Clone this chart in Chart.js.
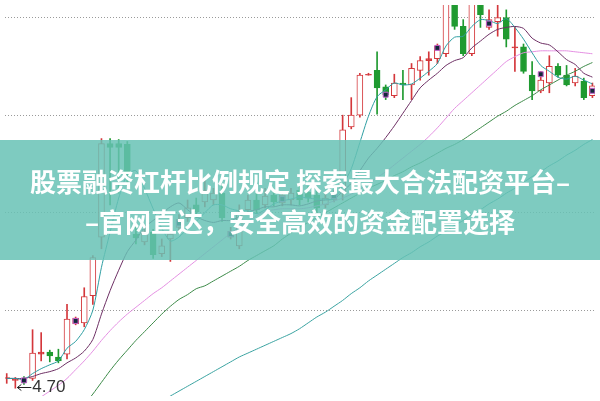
<!DOCTYPE html>
<html>
<head>
<meta charset="utf-8">
<script src="https://cdn.jsdelivr.net/npm/chart.js@4.4.1/dist/chart.umd.min.js"></script>
<style>
  html, body { margin: 0; padding: 0; background: #fff; }
  canvas { display: block; }
</style>
</head>
<body>
<canvas id="chart" width="600" height="401"></canvas>
<script>
// daily candles (price units)
const opens = [
  4.80, 4.78, 4.80, 4.80, 5.05, 5.07, 5.02, 5.05, 5.36, 5.37,
  5.65, 6.25, 7.21, 7.21, 7.20, 6.28, 6.20, 6.30, 6.08, 6.23,
  6.35, 6.45, 6.58, 6.61, 6.63, 6.70, 6.25, 6.16, 6.53, 6.63,
  6.58, 6.68, 6.60, 6.63, 6.73, 6.71, 6.68, 6.58, 6.63, 6.70,
  7.38, 7.50, 7.91, 7.96, 7.79, 7.70, 7.83, 7.81, 7.96, 8.06,
  8.08, 8.13, 8.68, 8.41, 8.13, 8.68, 8.40, 8.46, 8.50, 8.19,
  8.20, 7.91, 7.75, 7.83, 8.00, 7.91, 7.83, 7.85, 7.70,
];
const closes = [
  4.81, 4.79, 4.76, 5.06, 5.07, 5.03, 4.98, 5.41, 5.42, 5.64,
  6.04, 7.21, 7.17, 7.17, 6.88, 6.24, 6.31, 6.07, 6.16, 6.28,
  6.43, 6.55, 6.51, 6.73, 6.70, 6.45, 6.31, 6.51, 6.63, 6.53,
  6.67, 6.61, 6.68, 6.70, 6.63, 6.65, 6.55, 6.65, 6.71, 7.35,
  7.50, 7.91, 7.92, 7.78, 7.71, 7.83, 7.81, 7.98, 8.06, 8.08,
  8.21, 8.73, 8.41, 8.13, 8.68, 8.53, 8.48, 8.50, 8.28, 8.20,
  7.95, 7.75, 7.86, 8.00, 7.91, 7.81, 7.90, 7.68, 7.80,
];
const highs = [
  4.85, 4.81, 4.82, 5.30, 5.27, 5.09, 5.10, 5.56, 5.43, 5.73,
  6.06, 7.26, 7.26, 7.25, 7.23, 6.35, 6.36, 6.33, 6.23, 6.33,
  6.48, 6.63, 6.65, 6.86, 6.75, 6.78, 6.35, 6.58, 6.68, 6.70,
  6.75, 6.73, 6.71, 6.75, 6.78, 6.77, 6.73, 6.69, 6.73, 7.50,
  7.68, 7.93, 7.93, 8.15, 7.81, 7.92, 7.96, 8.03, 8.10, 8.15,
  8.23, 8.78, 8.73, 8.48, 8.73, 8.73, 8.58, 8.63, 8.58, 8.41,
  8.23, 8.05, 7.95, 8.11, 8.03, 8.01, 7.98, 7.88, 7.83,
];
const lows = [
  4.75, 4.70, 4.74, 4.78, 4.98, 4.97, 4.96, 5.00, 5.35, 5.33,
  5.56, 6.13, 6.58, 6.70, 6.78, 6.18, 6.17, 6.03, 6.05, 6.00,
  6.31, 6.41, 6.45, 6.56, 6.58, 6.41, 6.23, 6.13, 6.48, 6.49,
  6.55, 6.57, 6.57, 6.58, 6.58, 6.61, 6.50, 6.55, 6.61, 6.63,
  7.36, 7.48, 7.91, 7.51, 7.66, 7.68, 7.66, 7.66, 7.86, 7.91,
  8.03, 8.10, 8.38, 8.11, 8.11, 8.40, 8.38, 8.31, 8.20, 7.95,
  7.93, 7.66, 7.73, 7.73, 7.89, 7.80, 7.80, 7.66, 7.68,
];

// moving averages as drawn
const ma5 = [
  4.80, 4.80, 4.79, 4.85, 4.90, 4.94, 4.98, 5.11, 5.18, 5.30,
  5.50, 5.94, 6.30, 6.65, 6.89, 6.93, 6.75, 6.54, 6.34, 6.21,
  6.25, 6.34, 6.41, 6.50, 6.58, 6.58, 6.54, 6.52, 6.52, 6.49,
  6.53, 6.59, 6.62, 6.64, 6.66, 6.65, 6.64, 6.64, 6.64, 6.78,
  6.95, 7.22, 7.49, 7.69, 7.76, 7.83, 7.81, 7.82, 7.88, 7.95,
  8.03, 8.21, 8.30, 8.31, 8.41, 8.48, 8.47, 8.44, 8.49, 8.40,
  8.28, 8.14, 8.01, 7.95, 7.89, 7.87, 7.90, 7.86, 7.82,
];
const ma10 = [
  4.80, 4.80, 4.80, 4.82, 4.85, 4.87, 4.90, 4.96, 5.01, 5.08,
  5.20, 5.46, 5.70, 5.91, 6.10, 6.22, 6.35, 6.42, 6.49, 6.56,
  6.60, 6.53, 6.46, 6.42, 6.40, 6.42, 6.42, 6.46, 6.51, 6.53,
  6.56, 6.56, 6.58, 6.58, 6.57, 6.59, 6.62, 6.63, 6.64, 6.72,
  6.80, 6.93, 7.06, 7.16, 7.27, 7.39, 7.52, 7.65, 7.78, 7.86,
  7.93, 8.01, 8.06, 8.09, 8.19, 8.26, 8.33, 8.38, 8.40, 8.41,
  8.39, 8.29, 8.24, 8.22, 8.15, 8.07, 8.02, 7.93, 7.89,
];
const ma20 = [
  4.33, 4.39, 4.46, 4.54, 4.61, 4.67, 4.73, 4.80, 4.89, 4.98,
  5.08, 5.19, 5.29, 5.38, 5.46, 5.53, 5.60, 5.67, 5.73, 5.80,
  5.87, 5.94, 6.01, 6.08, 6.15, 6.22, 6.29, 6.35, 6.41, 6.47,
  6.51, 6.53, 6.54, 6.54, 6.54, 6.55, 6.57, 6.59, 6.62, 6.65,
  6.69, 6.74, 6.80, 6.86, 6.92, 6.99, 7.06, 7.13, 7.20, 7.28,
  7.37, 7.47, 7.57, 7.65, 7.73, 7.81, 7.89, 7.97, 8.05, 8.10,
  8.14, 8.15, 8.16, 8.16, 8.16, 8.16, 8.15, 8.14, 8.13,
];
const ma30 = [
  null, null, null, null, null, null, null, null, null, 4.53,
  4.64, 4.76, 4.88, 4.99, 5.09, 5.19, 5.28, 5.37, 5.46, 5.54,
  5.61, 5.66, 5.72, 5.75, 5.80, 5.85, 5.90, 5.95, 6.01, 6.06,
  6.11, 6.16, 6.23, 6.29, 6.35, 6.40, 6.45, 6.50, 6.55, 6.60,
  6.65, 6.70, 6.75, 6.79, 6.83, 6.88, 6.92, 6.97, 7.01, 7.06,
  7.11, 7.16, 7.20, 7.25, 7.31, 7.37, 7.43, 7.49, 7.54, 7.60,
  7.65, 7.70, 7.76, 7.81, 7.86, 7.91, 7.95, 8.00, 8.04,
];
const ma60 = [
  null, null, null, null, null, null, null, null, null, null,
  null, null, null, null, null, null, null, null, 4.57, 4.62,
  4.67, 4.72, 4.77, 4.82, 4.87, 4.92, 4.97, 5.02, 5.06, 5.10,
  5.14, 5.18, 5.22, 5.26, 5.31, 5.37, 5.43, 5.48, 5.54, 5.60,
  5.67, 5.73, 5.80, 5.86, 5.92, 5.98, 6.04, 6.09, 6.15, 6.20,
  6.26, 6.31, 6.37, 6.42, 6.48, 6.53, 6.59, 6.64, 6.70, 6.75,
  6.81, 6.87, 6.92, 6.98, 7.03, 7.09, 7.14, 7.20, 7.25,
];

// the small dark signal boxes sitting on some candles
const signals = [
  null, null, 4.78, null, null, null, null, null, 5.39, null,
  null, null, null, null, null, null, null, null, null, null,
  6.39, null, null, null, null, null, 6.28, null, null, null,
  null, null, 6.64, null, null, null, null, null, 6.67, null,
  null, null, null, null, 7.71, null, null, null, null, null,
  8.19, null, null, null, null, null, 8.44, null, null, null,
  null, null, 7.92, null, null, null, null, null, 7.75,
];

const gridLevels = [5.5, 6.5, 7.5, 8.5];
const titleLines = ["股票融资杠杆比例规定 探索最大合法配资平台–", "–官网直达，安全高效的资金配置选择"];

const RED = "#d4373b";
const GREEN = "#1f9a30";
const idx = opens.map((_, i) => i);
const isUp = (i) => closes[i] >= opens[i];
const toPoints = (arr) => idx.filter((i) => arr[i] != null).map((i) => ({ x: i, y: arr[i] }));

const maLine = (label, arr, color) => ({
  type: "line", label, data: toPoints(arr), borderColor: color, borderWidth: 1,
  pointRadius: 0, tension: 0.25, order: 1,
});

// low price tag + title banner drawn on top
const overlayPlugin = {
  id: "overlay",
  afterDraw(chart) {
    const { ctx, scales, width } = chart;
    const lowIdx = lows.indexOf(Math.min(...lows));
    const x = scales.x.getPixelForValue(lowIdx) + 2;
    const y = Math.round(scales.y.getPixelForValue(lows[lowIdx])) - 0.5;
    ctx.save();
    ctx.strokeStyle = "#222";
    ctx.lineWidth = 1;
    ctx.beginPath();
    ctx.moveTo(x, y); ctx.lineTo(x + 14, y);
    ctx.moveTo(x, y); ctx.lineTo(x + 4, y - 3);
    ctx.moveTo(x, y); ctx.lineTo(x + 4, y + 3);
    ctx.stroke();
    ctx.fillStyle = "#333";
    ctx.font = "17px 'Liberation Sans', Arial, sans-serif";
    ctx.textBaseline = "middle";
    ctx.fillText(lows[lowIdx].toFixed(2), x + 15, y);

    ctx.fillStyle = "rgba(103,194,181,0.85)";
    ctx.fillRect(0, 140, width, 120);
    ctx.fillStyle = "#fff";
    ctx.font = "bold 26px 'Noto Sans CJK SC', sans-serif";
    ctx.textAlign = "center";
    ctx.fillText(titleLines[0], width / 2, 182);
    ctx.fillText(titleLines[1], width / 2, 222);
    ctx.restore();
  },
};

new Chart(document.getElementById("chart"), {
  type: "bar",
  data: {
    datasets: [
      {
        type: "line", label: "signal", data: toPoints(signals), showLine: false,
        pointStyle: "rect", pointRadius: 3.5, pointBackgroundColor: "#13283a",
        pointBorderColor: "#c462cc", pointBorderWidth: 1, order: 0,
      },
      maLine("MA5", ma5, "#2e9ea2"),
      maLine("MA10", ma10, "#6d2f64"),
      maLine("MA20", ma20, "#e48fe2"),
      maLine("MA30", ma30, "#3c8a48"),
      maLine("MA60", ma60, "#3aa3a1"),
      {
        label: "body", data: idx.map((i) => ({ x: i, y: [opens[i], closes[i]] })),
        backgroundColor: idx.map((i) => isUp(i) ? (Math.abs(closes[i] - opens[i]) < 0.03 ? RED : "#fff") : GREEN),
        borderColor: idx.map((i) => isUp(i) ? RED : GREEN),
        borderWidth: 1, borderSkipped: false, barThickness: 6, grouped: false, order: 2,
      },
      {
        label: "wick", data: idx.map((i) => ({ x: i, y: [lows[i], highs[i]] })),
        backgroundColor: idx.map((i) => isUp(i) ? RED : GREEN),
        barThickness: 1, grouped: false, order: 3,
      },
    ],
  },
  options: {
    responsive: false,
    animation: false,
    layout: { padding: 0 },
    plugins: { legend: { display: false }, tooltip: { enabled: false } },
    scales: {
      x: { type: "linear", min: -0.2, max: 68.3, offset: false, display: false },
      y: {
        min: 4.62, max: 8.63,
        afterBuildTicks: (s) => { s.ticks = gridLevels.map((v) => ({ value: v })); },
        ticks: { display: false },
        grid: { color: "#9a9a9a", drawTicks: false, lineWidth: 1 },
        border: { display: false, dash: [1, 2] },
      },
    },
  },
  plugins: [overlayPlugin],
});
</script>
</body>
</html>
